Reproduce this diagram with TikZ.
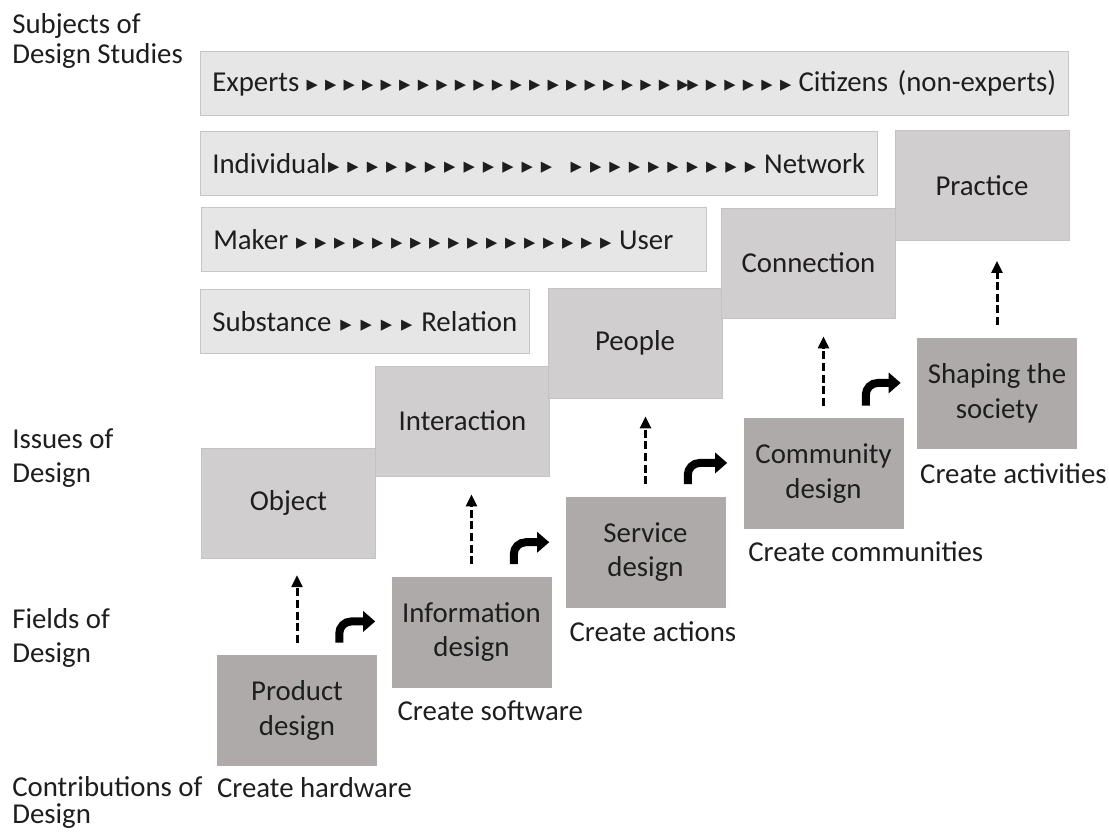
\documentclass[tikz,border=0pt]{standalone}
\usepackage{fontspec}
\setmainfont{Carlito}
\newfontfamily\symfont{DejaVu Sans}
\usetikzlibrary{positioning,arrows.meta}
\definecolor{barfill}{HTML}{E7E6E6}
\definecolor{barline}{HTML}{C6C6C6}
\definecolor{issuefill}{HTML}{D0CECE}
\definecolor{issueline}{HTML}{C4C2C2}
\definecolor{fieldfill}{HTML}{AEAAAA}
\definecolor{ink}{HTML}{1E1E1E}
% small pointer glyph and a row of them spread over the bar
\newcommand\tri{{\symfont\fontsize{16}{16}\selectfont ▸}}
\newcommand\trirow[1]{\foreach \k in {1,...,#1}{\hfil\tri}\hfil}
\begin{document}
\begin{tikzpicture}
  [bar/.style={rectangle,draw=barline,fill=barfill,anchor=north west,align=left,inner xsep=0.3cm,inner ysep=0pt,minimum height=1.6cm}
  ,issue/.style={rectangle,fill=issuefill,draw=issueline,minimum width=4.35cm,minimum height=2.75cm}
  ,field/.style={rectangle,fill=fieldfill,minimum width=4cm,minimum height=2.775cm,align=center}
  ,side/.style={anchor=north west,align=left,inner sep=0pt}
  ,result/.style={inner sep=0pt}
  ,rise/.style={-{Triangle[width=0.27cm,length=0.3cm]},line width=0.075cm,dash pattern=on 0.2cm off 0.09cm}
  ,turn/.style={-{Triangle[width=0.5cm,length=0.3cm]},line width=0.2cm,rounded corners=0.3cm}
  ,every node/.style={font=\fontsize{20.5}{24.5}\selectfont,text=ink}]
\useasboundingbox (0,0) rectangle (27.725,-20.8);
% row labels
\node[side,font=\fontsize{20.5}{21}\selectfont] at (0.3,-0.33) (subj) {Subjects of\\Design Studies};
\node[side] at (0.3,-10.7) (iss) {Issues of\\Design};
\node[side] at (0.3,-15.2) (fld) {Fields of\\Design};
\node[side,font=\fontsize{20.5}{19.5}\selectfont] at (0.3,-19.4) (contr) {Contributions of\\Design};
% subject bars
\node[bar,text width=21.1cm,minimum width=21.7cm] at (5.0,-1.275) (expert)
  {\hbox to \hsize{Experts\trirow{20}\tri\kern-1pt\tri\trirow{5}Citizens (non-experts)}};
\node[bar,text width=16.325cm,minimum width=16.925cm] at (5.0,-3.275) (indiv)
  {\hbox to \hsize{Individual\kern1pt\tri\trirow{11}\hskip0.06cm\trirow{10}Network}};
\node[bar,text width=12.025cm,minimum width=12.625cm] at (5.025,-5.175) (maker)
  {\hbox to 11.5cm{Maker\trirow{17}User}};
\node[bar,text width=7.625cm,minimum width=8.225cm] at (5.0,-7.225) (subst)
  {\hbox to \hsize{Substance\trirow{4}Relation}};
% issues of design
\node[issue] at (7.2125,-12.575) (obj) {Object};
\node[issue] at (11.5625,-10.525) (inter) {Interaction};
\node[issue] at (15.875,-8.575) (people) {People};
\node[issue] at (20.2125,-6.575) (conn) {Connection};
\node[issue] at (24.55,-4.6375) (pract) {Practice};
% fields of design
\node[field] at (7.425,-17.7625) (prod) {Product\\design};
\node[field] at (11.7875,-15.8) (info) {Information\\design};
\node[field] at (16.1375,-13.8) (serv) {Service\\design};
\node[field] at (20.5875,-11.8375) (comm) {Community\\design};
\node[field] at (24.925,-9.8375) (shape) {Shaping the\\society};
% contributions
\node[result,below right=0.28cm and 0cm of prod.south west] (hard) {Create hardware};
\node[result,below right=0.32cm and 0.15cm of info.south west] (soft) {Create software};
\node[result,below right=0.34cm and 0.1cm of serv.south west] (act) {Create actions};
\node[result,below right=0.3cm and 0.12cm of comm.south west] (cmty) {Create communities};
\node[result,below right=0.36cm and 0.08cm of shape.south west] (activ) {Create activities};
%
\draw [rise] ([yshift=0.3cm]prod.north) -- ([yshift=-0.42cm]prod.north |- obj.south);
\draw [rise] ([yshift=0.3cm]info.north) -- ([yshift=-0.45cm]info.north |- inter.south);
\draw [rise] ([yshift=0.3cm]serv.north) -- ([yshift=-0.45cm]serv.north |- people.south);
\draw [rise] ([yshift=0.3cm]comm.north) -- ([yshift=-0.45cm]comm.north |- conn.south);
\draw [rise] ([yshift=0.32cm]shape.north) -- ([yshift=-0.5cm]shape.north |- pract.south);
%
\draw [turn] ([xshift=-0.95cm,yshift=0.3cm]prod.north east) |- ([xshift=-0.4cm,yshift=-1.13cm]info.north west);
\draw [turn] ([xshift=-0.95cm,yshift=0.3cm]info.north east) |- ([xshift=-0.4cm,yshift=-1.15cm]serv.north west);
\draw [turn] ([xshift=-0.95cm,yshift=0.3cm]serv.north east) |- ([xshift=-0.4cm,yshift=-1.13cm]comm.north west);
\draw [turn] ([xshift=-0.95cm,yshift=0.3cm]comm.north east) |- ([xshift=-0.4cm,yshift=-1.13cm]shape.north west);
\end{tikzpicture}
\end{document}
